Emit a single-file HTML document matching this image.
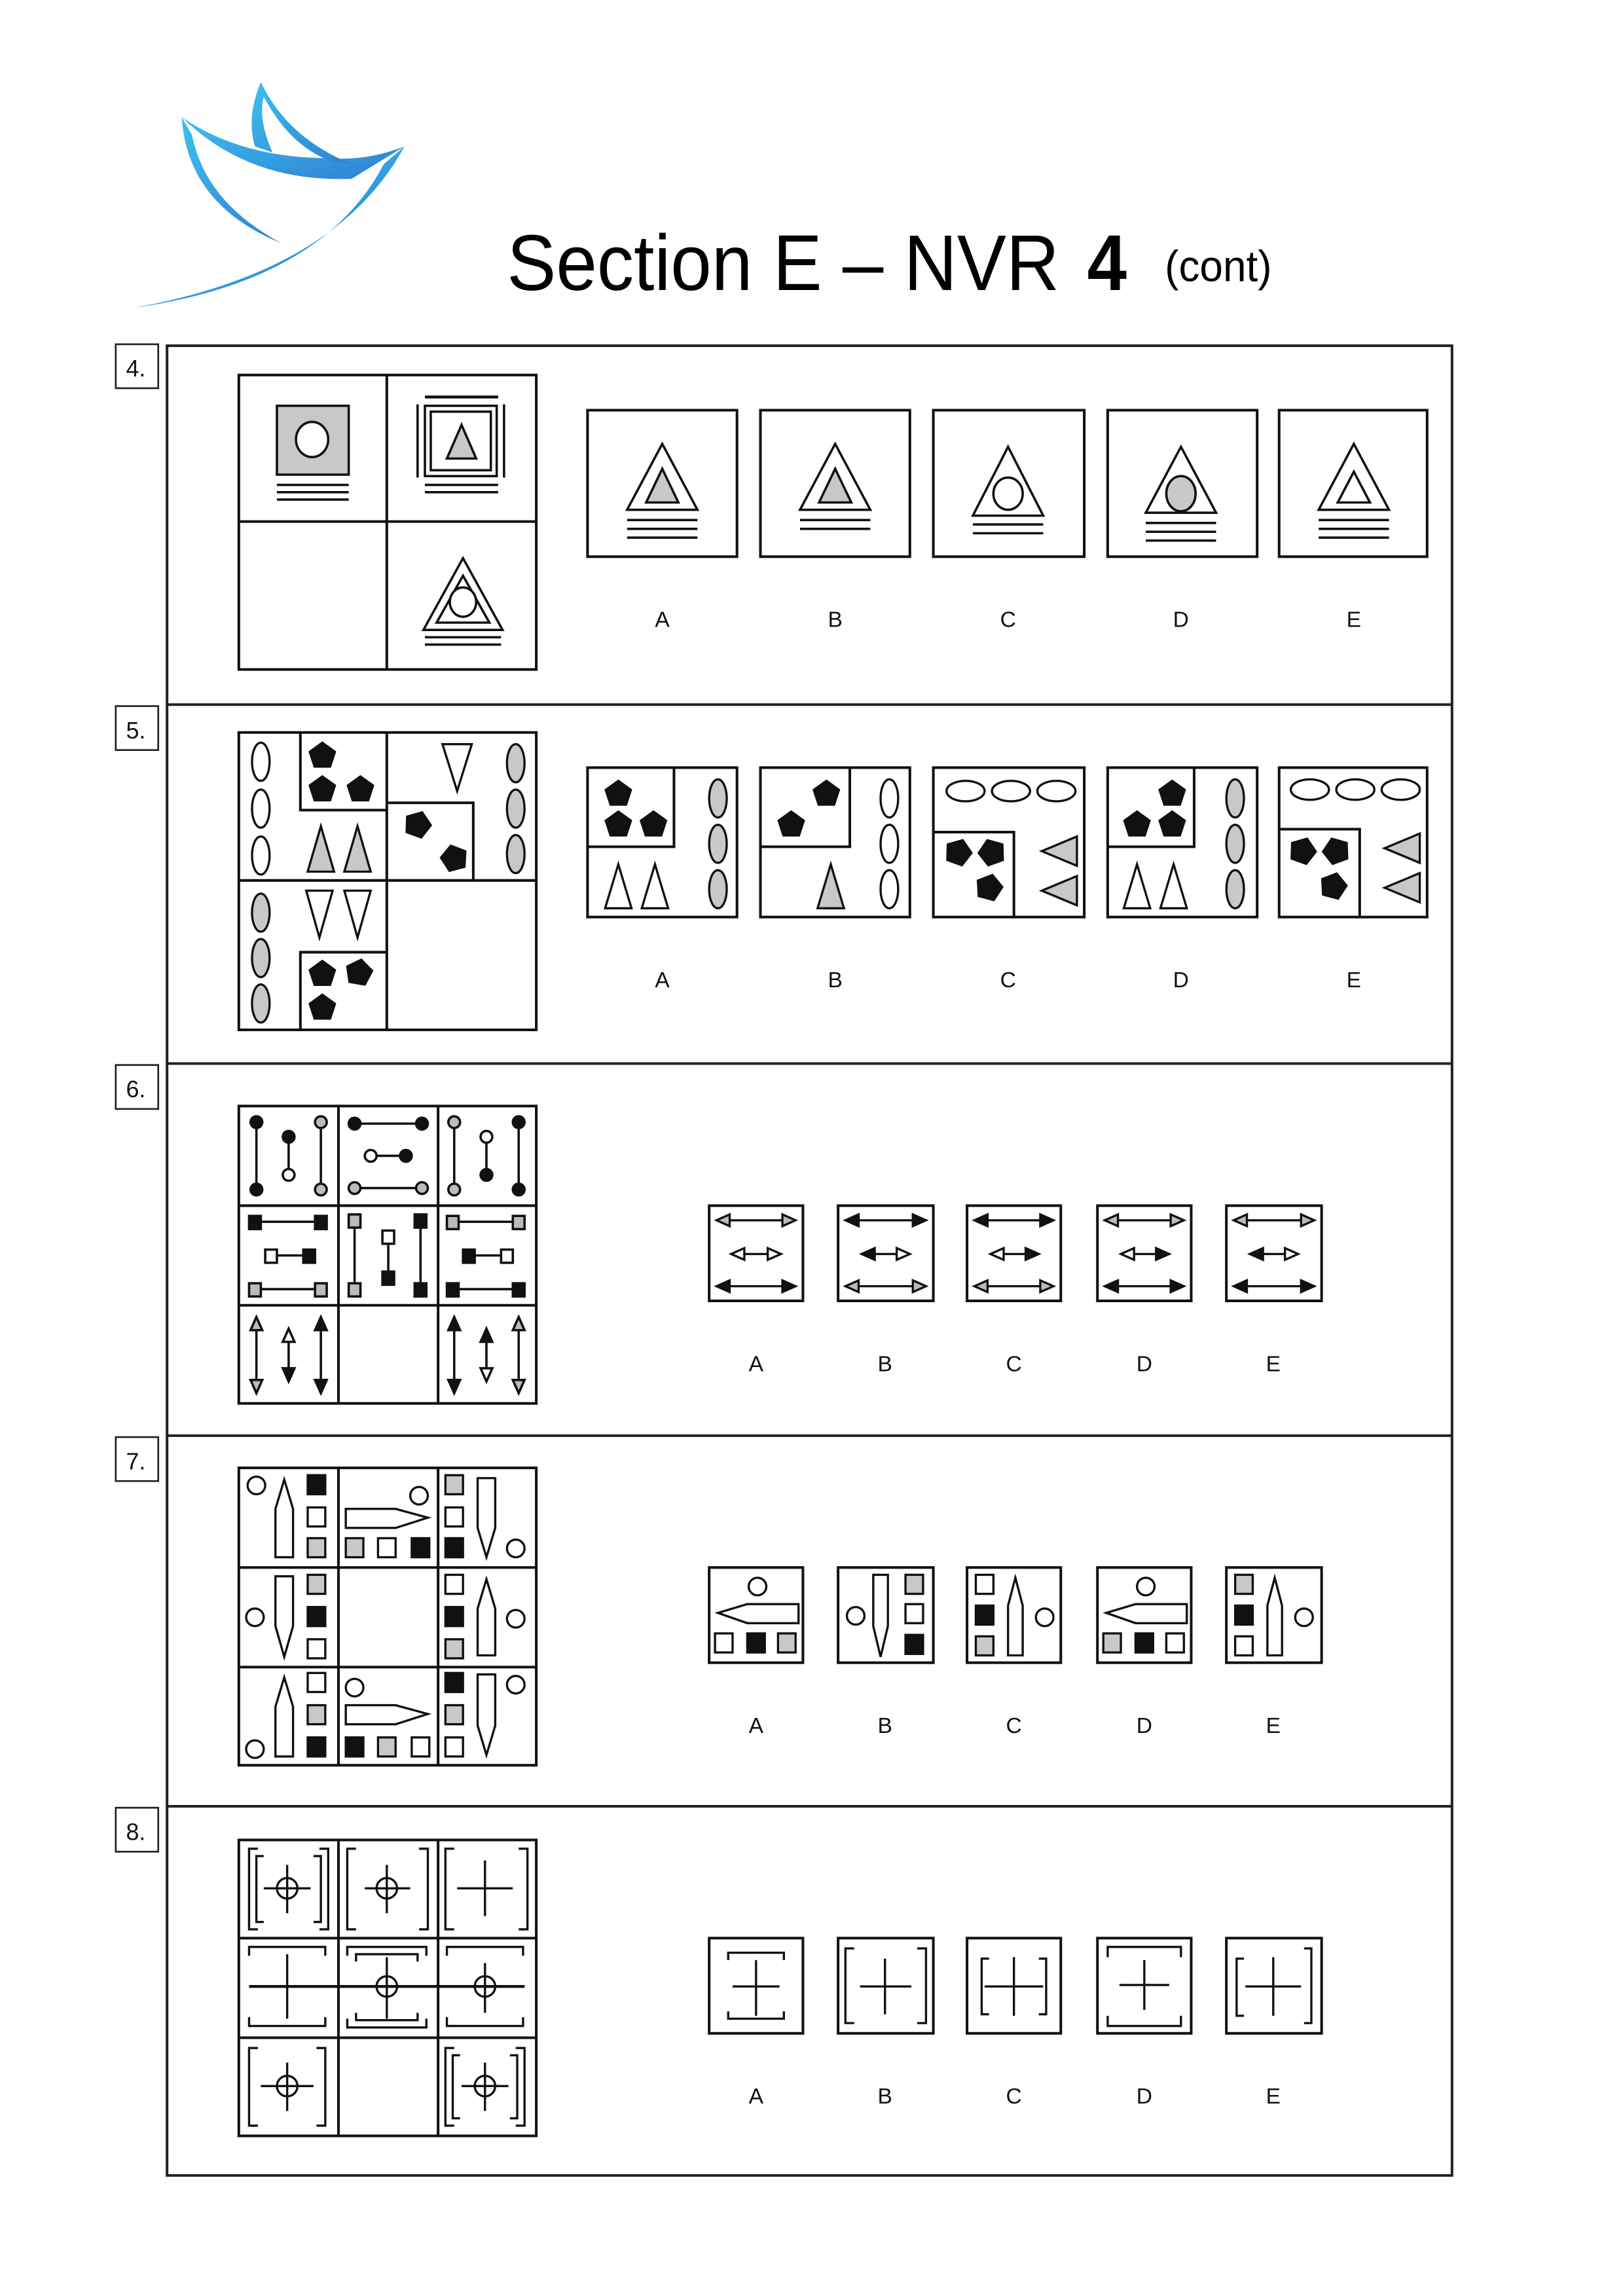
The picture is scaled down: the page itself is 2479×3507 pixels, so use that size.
<!DOCTYPE html>
<html><head><meta charset="utf-8"><style>html,body{margin:0;padding:0;background:#fff}svg{display:block}</style></head>
<body>
<svg xmlns="http://www.w3.org/2000/svg" width="2479" height="3507" viewBox="0 0 1107.7 1567.3" preserveAspectRatio="none">
<defs>
<linearGradient id="bl" x1="0" y1="0" x2="1" y2="1"><stop offset="0" stop-color="#3ec0ee"/><stop offset="1" stop-color="#2e7fd2"/></linearGradient>
</defs>
<rect width="1110" height="1570" fill="#fff"/>
<!-- logo -->
<g fill="url(#bl)">
<path d="M124 80 Q128 140 192 166 Q140 138 131 92 Z"/>
<path d="M124 80 Q170 125 240 122 L276 100 Q250 110 225 108 Q165 108 124 80 Z"/>
<path d="M178 56 Q168 80 174 100 L186 104 Q176 82 180 66 Q198 100 226 110 L240 112 Q196 94 178 56 Z"/>
<path d="M276 100 Q230 185 92 210 Q220 192 262 112 Z"/>
</g>
<!-- title -->
<text x="346" y="198" font-family="Liberation Sans Narrow, Liberation Sans, sans-serif" font-size="54" textLength="377" lengthAdjust="spacingAndGlyphs">Section E – NVR</text>
<text x="742" y="198" font-family="Liberation Sans, sans-serif" font-size="54" font-weight="bold" textLength="27" lengthAdjust="spacingAndGlyphs">4</text>
<text x="795" y="192" font-family="Liberation Sans Narrow, Liberation Sans, sans-serif" font-size="30" textLength="73" lengthAdjust="spacingAndGlyphs">(cont)</text>

<g fill="none" stroke="#222" stroke-width="1.8">
<rect x="114" y="236" width="877" height="1249"/>
<line x1="114" y1="481" x2="991" y2="481"/>
<line x1="114" y1="726" x2="991" y2="726"/>
<line x1="114" y1="980" x2="991" y2="980"/>
<line x1="114" y1="1233" x2="991" y2="1233"/>
<rect x="79" y="235" width="29" height="30" stroke-width="1.2"/>
<rect x="79" y="482" width="29" height="30" stroke-width="1.2"/>
<rect x="79" y="727" width="29" height="30" stroke-width="1.2"/>
<rect x="79" y="981" width="29" height="30" stroke-width="1.2"/>
<rect x="79" y="1234" width="29" height="30" stroke-width="1.2"/>
</g>
<g font-family="Liberation Sans Narrow, Liberation Sans, sans-serif" font-size="16" fill="#111">
<text x="86" y="257">4.</text><text x="86" y="504">5.</text><text x="86" y="749">6.</text><text x="86" y="1003">7.</text><text x="86" y="1256">8.</text>
</g>

<!-- labels -->
<g font-family="Liberation Sans, sans-serif" font-size="15" fill="#111" text-anchor="middle">
<text x="452" y="428">A</text><text x="570" y="428">B</text><text x="688" y="428">C</text><text x="806" y="428">D</text><text x="924" y="428">E</text>
<text x="452" y="674">A</text><text x="570" y="674">B</text><text x="688" y="674">C</text><text x="806" y="674">D</text><text x="924" y="674">E</text>
<text x="516" y="936">A</text><text x="604" y="936">B</text><text x="692" y="936">C</text><text x="781" y="936">D</text><text x="869" y="936">E</text>
<text x="516" y="1183">A</text><text x="604" y="1183">B</text><text x="692" y="1183">C</text><text x="781" y="1183">D</text><text x="869" y="1183">E</text>
<text x="516" y="1436">A</text><text x="604" y="1436">B</text><text x="692" y="1436">C</text><text x="781" y="1436">D</text><text x="869" y="1436">E</text>
</g>

<!-- ===== Q4 ===== -->
<g stroke="#111" stroke-width="1.8" fill="none">
<rect x="163" y="256" width="203" height="201"/>
<line x1="264" y1="256" x2="264" y2="457"/><line x1="163" y1="356" x2="366" y2="356"/>
<rect x="401" y="280" width="102" height="100"/><rect x="519" y="280" width="102" height="100"/>
<rect x="637" y="280" width="103" height="100"/><rect x="756" y="280" width="102" height="100"/>
<rect x="873" y="280" width="101" height="100"/>
</g>
<g stroke="#111" stroke-width="1.6">
<rect x="189" y="277" width="49" height="47" fill="#c8c8c8"/>
<ellipse cx="213" cy="300" rx="11" ry="12" fill="#fff"/>
<line x1="189" y1="331" x2="238" y2="331"/><line x1="189" y1="336" x2="238" y2="336"/><line x1="189" y1="341" x2="238" y2="341"/>
<line x1="290" y1="271" x2="340" y2="271" stroke-width="2"/>
<line x1="285" y1="276" x2="285" y2="326"/><line x1="344" y1="276" x2="344" y2="326"/>
<rect x="290" y="277" width="49" height="48" fill="#fff"/><rect x="294" y="281" width="41" height="40" fill="#fff"/>
<polygon points="315,290 305,313 325,313" fill="#c8c8c8"/>
<line x1="290" y1="331" x2="340" y2="331"/><line x1="290" y1="336" x2="340" y2="336"/>
<polygon points="316,381 289,430 343,430" fill="#fff"/>
<polygon points="316,393 298,425 334,425" fill="#fff"/>
<ellipse cx="316" cy="411" rx="9" ry="10" fill="#fff"/>
<line x1="290" y1="435" x2="342" y2="435"/><line x1="290" y1="440" x2="342" y2="440"/>
</g>
<!-- Q4 options -->
<g stroke="#111" stroke-width="1.6" fill="#fff">
<polygon points="452,303 428,348 476,348"/><polygon points="452,320 441,343 463,343" fill="#c8c8c8"/>
<line x1="428" y1="355" x2="476" y2="355"/><line x1="428" y1="361" x2="476" y2="361"/><line x1="428" y1="367" x2="476" y2="367"/>
<polygon points="570,303 546,348 594,348"/><polygon points="570,320 559,343 581,343" fill="#c8c8c8"/>
<line x1="546" y1="355" x2="594" y2="355"/><line x1="546" y1="361" x2="594" y2="361"/>
<polygon points="688,305 664,352 712,352"/><ellipse cx="688" cy="337" rx="10" ry="11"/>
<line x1="664" y1="358" x2="712" y2="358"/><line x1="664" y1="364" x2="712" y2="364"/>
<polygon points="806,305 782,350 830,350"/><ellipse cx="806" cy="337" rx="10" ry="12" fill="#c8c8c8"/>
<line x1="782" y1="357" x2="830" y2="357"/><line x1="782" y1="363" x2="830" y2="363"/><line x1="782" y1="369" x2="830" y2="369"/>
<polygon points="924,303 900,348 948,348"/><polygon points="924,322 913,343 935,343"/>
<line x1="900" y1="355" x2="948" y2="355"/><line x1="900" y1="361" x2="948" y2="361"/><line x1="900" y1="367" x2="948" y2="367"/>
</g>

<!-- ===== Q5 ===== -->
<g stroke="#111" stroke-width="1.8" fill="none">
<rect x="163" y="500" width="203" height="203"/>
<line x1="264" y1="500" x2="264" y2="703"/><line x1="163" y1="601" x2="366" y2="601"/>
<polyline points="205,500 205,553 264,553"/>
<polyline points="264,548 323,548 323,601"/>
<polyline points="205,703 205,650 264,650"/>
<rect x="401" y="524" width="102" height="102"/><rect x="519" y="524" width="102" height="102"/>
<rect x="637" y="524" width="103" height="102"/><rect x="756" y="524" width="102" height="102"/>
<rect x="873" y="524" width="101" height="102"/>
<polyline points="460,524 460,578 401,578"/>
<polyline points="580,524 580,578 519,578"/>
<polyline points="637,568 692,568 692,626"/>
<polyline points="815,524 815,578 756,578"/>
<polyline points="873,566 928,566 928,626"/>
</g>
<g stroke="#111" stroke-width="1.5">
<g fill="#fff"><ellipse cx="178" cy="520" rx="6" ry="13"/><ellipse cx="178" cy="552" rx="6" ry="13"/><ellipse cx="178" cy="584" rx="6" ry="13"/></g>
<g fill="#c8c8c8"><ellipse cx="352" cy="521" rx="6" ry="13"/><ellipse cx="352" cy="552" rx="6" ry="13"/><ellipse cx="352" cy="583" rx="6" ry="13"/>
<ellipse cx="178" cy="623" rx="6" ry="13"/><ellipse cx="178" cy="654" rx="6" ry="13"/><ellipse cx="178" cy="685" rx="6" ry="13"/></g>
<g fill="#c8c8c8"><polygon points="219,564 210,595 228,595"/><polygon points="244,564 235,595 253,595"/></g>
<g fill="#fff"><polygon points="302,508 322,508 312,540"/><polygon points="209,608 227,608 218,640"/><polygon points="235,608 253,608 244,640"/></g>
<g fill="#111">
<polygon transform="translate(220,516)" points="0,-9 8.6,-2.8 5.3,7.3 -5.3,7.3 -8.6,-2.8"/>
<polygon transform="translate(220,539)" points="0,-9 8.6,-2.8 5.3,7.3 -5.3,7.3 -8.6,-2.8"/>
<polygon transform="translate(246,539)" points="0,-9 8.6,-2.8 5.3,7.3 -5.3,7.3 -8.6,-2.8"/>
<polygon transform="translate(285,563) rotate(20)" points="0,-9 8.6,-2.8 5.3,7.3 -5.3,7.3 -8.6,-2.8"/>
<polygon transform="translate(310,586) rotate(-15)" points="0,-9 8.6,-2.8 5.3,7.3 -5.3,7.3 -8.6,-2.8"/>
<polygon transform="translate(220,665)" points="0,-9 8.6,-2.8 5.3,7.3 -5.3,7.3 -8.6,-2.8"/>
<polygon transform="translate(245,664) rotate(10)" points="0,-9 8.6,-2.8 5.3,7.3 -5.3,7.3 -8.6,-2.8"/>
<polygon transform="translate(220,688)" points="0,-9 8.6,-2.8 5.3,7.3 -5.3,7.3 -8.6,-2.8"/>
<polygon transform="translate(422,542)" points="0,-9 8.6,-2.8 5.3,7.3 -5.3,7.3 -8.6,-2.8"/>
<polygon transform="translate(422,563)" points="0,-9 8.6,-2.8 5.3,7.3 -5.3,7.3 -8.6,-2.8"/>
<polygon transform="translate(446,563)" points="0,-9 8.6,-2.8 5.3,7.3 -5.3,7.3 -8.6,-2.8"/>
<polygon transform="translate(564,542)" points="0,-9 8.6,-2.8 5.3,7.3 -5.3,7.3 -8.6,-2.8"/>
<polygon transform="translate(540,563)" points="0,-9 8.6,-2.8 5.3,7.3 -5.3,7.3 -8.6,-2.8"/>
<polygon transform="translate(654,582) rotate(20)" points="0,-9 8.6,-2.8 5.3,7.3 -5.3,7.3 -8.6,-2.8"/>
<polygon transform="translate(677,582) rotate(-20)" points="0,-9 8.6,-2.8 5.3,7.3 -5.3,7.3 -8.6,-2.8"/>
<polygon transform="translate(675,606) rotate(15)" points="0,-9 8.6,-2.8 5.3,7.3 -5.3,7.3 -8.6,-2.8"/>
<polygon transform="translate(800,542)" points="0,-9 8.6,-2.8 5.3,7.3 -5.3,7.3 -8.6,-2.8"/>
<polygon transform="translate(776,563)" points="0,-9 8.6,-2.8 5.3,7.3 -5.3,7.3 -8.6,-2.8"/>
<polygon transform="translate(800,563)" points="0,-9 8.6,-2.8 5.3,7.3 -5.3,7.3 -8.6,-2.8"/>
<polygon transform="translate(889,581) rotate(20)" points="0,-9 8.6,-2.8 5.3,7.3 -5.3,7.3 -8.6,-2.8"/>
<polygon transform="translate(912,581) rotate(-20)" points="0,-9 8.6,-2.8 5.3,7.3 -5.3,7.3 -8.6,-2.8"/>
<polygon transform="translate(910,605) rotate(15)" points="0,-9 8.6,-2.8 5.3,7.3 -5.3,7.3 -8.6,-2.8"/>
</g>
<g fill="#c8c8c8"><ellipse cx="490" cy="545" rx="6" ry="13"/><ellipse cx="490" cy="576" rx="6" ry="13"/><ellipse cx="490" cy="607" rx="6" ry="13"/>
<ellipse cx="843" cy="545" rx="6" ry="13"/><ellipse cx="843" cy="576" rx="6" ry="13"/><ellipse cx="843" cy="607" rx="6" ry="13"/>
<polygon points="567,590 558,620 576,620"/>
<polygon points="711,581 735,571 735,591"/><polygon points="711,608 735,598 735,618"/>
<polygon points="945,579 969,569 969,589"/><polygon points="945,606 969,596 969,616"/></g>
<g fill="#fff"><ellipse cx="607" cy="545" rx="6" ry="13"/><ellipse cx="607" cy="576" rx="6" ry="13"/><ellipse cx="607" cy="607" rx="6" ry="13"/>
<polygon points="422,590 413,620 431,620"/><polygon points="447,590 438,620 456,620"/>
<polygon points="776,590 767,620 785,620"/><polygon points="801,590 792,620 810,620"/>
<ellipse cx="659" cy="540" rx="13" ry="7"/><ellipse cx="690" cy="540" rx="13" ry="7"/><ellipse cx="721" cy="540" rx="13" ry="7"/>
<ellipse cx="894" cy="539" rx="13" ry="7"/><ellipse cx="925" cy="539" rx="13" ry="7"/><ellipse cx="956" cy="539" rx="13" ry="7"/></g>
</g>

<!-- ===== Q6 ===== -->
<g stroke="#111" stroke-width="1.8" fill="none">
<rect x="163" y="755" width="203" height="203"/>
<line x1="231" y1="755" x2="231" y2="958"/><line x1="299" y1="755" x2="299" y2="958"/>
<line x1="163" y1="823" x2="366" y2="823"/><line x1="163" y1="891" x2="366" y2="891"/>
<rect x="484" y="823" width="64" height="65"/><rect x="572" y="823" width="65" height="65"/>
<rect x="660" y="823" width="64" height="65"/><rect x="749" y="823" width="64" height="65"/>
<rect x="837" y="823" width="65" height="65"/>
</g>
<g stroke="#111" stroke-width="1.6">
<line x1="175" y1="766" x2="175" y2="812"/><line x1="197" y1="776" x2="197" y2="802"/><line x1="219" y1="766" x2="219" y2="812"/>
<circle cx="175" cy="766" r="4" fill="#111"/><circle cx="175" cy="812" r="4" fill="#111"/>
<circle cx="197" cy="776" r="4" fill="#111"/><circle cx="197" cy="802" r="4" fill="#fff"/>
<circle cx="219" cy="766" r="4" fill="#bbb"/><circle cx="219" cy="812" r="4" fill="#bbb"/>
<line x1="242" y1="767" x2="288" y2="767"/><line x1="253" y1="789" x2="277" y2="789"/><line x1="242" y1="811" x2="288" y2="811"/>
<circle cx="242" cy="767" r="4" fill="#111"/><circle cx="288" cy="767" r="4" fill="#111"/>
<circle cx="253" cy="789" r="4" fill="#fff"/><circle cx="277" cy="789" r="4" fill="#111"/>
<circle cx="242" cy="811" r="4" fill="#bbb"/><circle cx="288" cy="811" r="4" fill="#bbb"/>
<line x1="310" y1="766" x2="310" y2="812"/><line x1="332" y1="776" x2="332" y2="802"/><line x1="354" y1="766" x2="354" y2="812"/>
<circle cx="310" cy="766" r="4" fill="#bbb"/><circle cx="310" cy="812" r="4" fill="#bbb"/>
<circle cx="332" cy="776" r="4" fill="#fff"/><circle cx="332" cy="802" r="4" fill="#111"/>
<circle cx="354" cy="766" r="4" fill="#111"/><circle cx="354" cy="812" r="4" fill="#111"/>
<line x1="175" y1="834" x2="219" y2="834"/><line x1="185" y1="857" x2="211" y2="857"/><line x1="175" y1="880" x2="219" y2="880"/>
<rect x="170" y="830" width="8" height="9" fill="#111"/><rect x="215" y="830" width="8" height="9" fill="#111"/>
<rect x="181" y="853" width="8" height="9" fill="#fff"/><rect x="207" y="853" width="8" height="9" fill="#111"/>
<rect x="170" y="876" width="8" height="9" fill="#bbb"/><rect x="215" y="876" width="8" height="9" fill="#bbb"/>
<line x1="242" y1="834" x2="242" y2="880"/><line x1="265" y1="845" x2="265" y2="872"/><line x1="287" y1="834" x2="287" y2="880"/>
<rect x="238" y="829" width="8" height="9" fill="#bbb"/><rect x="238" y="876" width="8" height="9" fill="#bbb"/>
<rect x="261" y="840" width="8" height="9" fill="#fff"/><rect x="261" y="868" width="8" height="9" fill="#111"/>
<rect x="283" y="829" width="8" height="9" fill="#111"/><rect x="283" y="876" width="8" height="9" fill="#111"/>
<line x1="310" y1="834" x2="354" y2="834"/><line x1="320" y1="857" x2="346" y2="857"/><line x1="310" y1="880" x2="354" y2="880"/>
<rect x="305" y="830" width="8" height="9" fill="#bbb"/><rect x="350" y="830" width="8" height="9" fill="#bbb"/>
<rect x="316" y="853" width="8" height="9" fill="#111"/><rect x="342" y="853" width="8" height="9" fill="#fff"/>
<rect x="305" y="876" width="8" height="9" fill="#111"/><rect x="350" y="876" width="8" height="9" fill="#111"/>
<line x1="175" y1="902" x2="175" y2="948"/><polygon points="175,899 171,908 179,908" fill="#bbb"/><polygon points="175,951 171,942 179,942" fill="#bbb"/>
<line x1="197" y1="910" x2="197" y2="940"/><polygon points="197,907 193,916 201,916" fill="#fff"/><polygon points="197,943 193,934 201,934" fill="#111"/>
<line x1="219" y1="902" x2="219" y2="948"/><polygon points="219,899 215,908 223,908" fill="#111"/><polygon points="219,951 215,942 223,942" fill="#111"/>
<line x1="310" y1="902" x2="310" y2="948"/><polygon points="310,899 306,908 314,908" fill="#111"/><polygon points="310,951 306,942 314,942" fill="#111"/>
<line x1="332" y1="910" x2="332" y2="940"/><polygon points="332,907 328,916 336,916" fill="#111"/><polygon points="332,943 328,934 336,934" fill="#fff"/>
<line x1="354" y1="902" x2="354" y2="948"/><polygon points="354,899 350,908 358,908" fill="#bbb"/><polygon points="354,951 350,942 358,942" fill="#bbb"/>
</g>
<g stroke="#111" stroke-width="1.5">
<line x1="490" y1="833" x2="542" y2="833"/><polygon points="489,833 498,829 498,837" fill="#bbb"/><polygon points="543,833 534,829 534,837" fill="#bbb"/>
<line x1="500" y1="856" x2="532" y2="856"/><polygon points="499,856 508,852 508,860" fill="#fff"/><polygon points="533,856 524,852 524,860" fill="#fff"/>
<line x1="490" y1="878" x2="542" y2="878"/><polygon points="489,878 498,874 498,882" fill="#111"/><polygon points="543,878 534,874 534,882" fill="#111"/>
<line x1="578" y1="833" x2="631" y2="833"/><polygon points="577,833 586,829 586,837" fill="#111"/><polygon points="632,833 623,829 623,837" fill="#111"/>
<line x1="589" y1="856" x2="620" y2="856"/><polygon points="588,856 597,852 597,860" fill="#111"/><polygon points="621,856 612,852 612,860" fill="#fff"/>
<line x1="578" y1="878" x2="631" y2="878"/><polygon points="577,878 586,874 586,882" fill="#bbb"/><polygon points="632,878 623,874 623,882" fill="#bbb"/>
<line x1="666" y1="833" x2="718" y2="833"/><polygon points="665,833 674,829 674,837" fill="#111"/><polygon points="719,833 710,829 710,837" fill="#111"/>
<line x1="677" y1="856" x2="708" y2="856"/><polygon points="676,856 685,852 685,860" fill="#fff"/><polygon points="709,856 700,852 700,860" fill="#111"/>
<line x1="666" y1="878" x2="718" y2="878"/><polygon points="665,878 674,874 674,882" fill="#bbb"/><polygon points="719,878 710,874 710,882" fill="#bbb"/>
<line x1="755" y1="833" x2="807" y2="833"/><polygon points="754,833 763,829 763,837" fill="#bbb"/><polygon points="808,833 799,829 799,837" fill="#bbb"/>
<line x1="766" y1="856" x2="797" y2="856"/><polygon points="765,856 774,852 774,860" fill="#fff"/><polygon points="798,856 789,852 789,860" fill="#111"/>
<line x1="755" y1="878" x2="807" y2="878"/><polygon points="754,878 763,874 763,882" fill="#111"/><polygon points="808,878 799,874 799,882" fill="#111"/>
<line x1="843" y1="833" x2="896" y2="833"/><polygon points="842,833 851,829 851,837" fill="#bbb"/><polygon points="897,833 888,829 888,837" fill="#bbb"/>
<line x1="854" y1="856" x2="885" y2="856"/><polygon points="853,856 862,852 862,860" fill="#111"/><polygon points="886,856 877,852 877,860" fill="#fff"/>
<line x1="843" y1="878" x2="896" y2="878"/><polygon points="842,878 851,874 851,882" fill="#111"/><polygon points="897,878 888,874 888,882" fill="#111"/>
</g>

<!-- ===== Q7 ===== -->
<g stroke="#111" stroke-width="1.8" fill="none">
<rect x="163" y="1002" width="203" height="203"/>
<line x1="231" y1="1002" x2="231" y2="1205"/><line x1="299" y1="1002" x2="299" y2="1205"/>
<line x1="163" y1="1070" x2="366" y2="1070"/><line x1="163" y1="1138" x2="366" y2="1138"/>
<rect x="484" y="1070" width="64" height="65"/><rect x="572" y="1070" width="65" height="65"/>
<rect x="660" y="1070" width="64" height="65"/><rect x="749" y="1070" width="64" height="65"/>
<rect x="837" y="1070" width="65" height="65"/>
</g>
<g stroke="#111" stroke-width="1.5" fill="#fff">
<circle cx="175" cy="1014" r="6"/>
<polygon points="188,1063 188,1030 194,1010 200,1030 200,1063"/>
<rect x="210" y="1007" width="12" height="13" fill="#111"/><rect x="210" y="1029" width="12" height="13"/><rect x="210" y="1050" width="12" height="13" fill="#c8c8c8"/>
<circle cx="286" cy="1021" r="6"/>
<polygon points="236,1030 270,1030 292,1036 270,1043 236,1043"/>
<rect x="236" y="1050" width="12" height="13" fill="#c8c8c8"/><rect x="258" y="1050" width="12" height="13"/><rect x="281" y="1050" width="12" height="13" fill="#111"/>
<rect x="304" y="1007" width="12" height="13" fill="#c8c8c8"/><rect x="304" y="1029" width="12" height="13"/><rect x="304" y="1050" width="12" height="13" fill="#111"/>
<polygon points="326,1009 338,1009 338,1043 332,1063 326,1043"/>
<circle cx="352" cy="1057" r="6"/>
<circle cx="174" cy="1104" r="6"/>
<polygon points="188,1076 200,1076 200,1110 194,1131 188,1110"/>
<rect x="210" y="1075" width="12" height="13" fill="#c8c8c8"/><rect x="210" y="1097" width="12" height="13" fill="#111"/><rect x="210" y="1119" width="12" height="13"/>
<rect x="304" y="1075" width="12" height="13"/><rect x="304" y="1097" width="12" height="13" fill="#111"/><rect x="304" y="1119" width="12" height="13" fill="#c8c8c8"/>
<polygon points="326,1130 326,1098 332,1078 338,1098 338,1130"/>
<circle cx="352" cy="1105" r="6"/>
<polygon points="188,1199 188,1165 194,1145 200,1165 200,1199"/>
<rect x="210" y="1142" width="12" height="13"/><rect x="210" y="1164" width="12" height="13" fill="#c8c8c8"/><rect x="210" y="1186" width="12" height="13" fill="#111"/>
<circle cx="174" cy="1194" r="6"/>
<circle cx="242" cy="1152" r="6"/>
<polygon points="236,1164 270,1164 292,1170 270,1177 236,1177"/>
<rect x="236" y="1186" width="12" height="13" fill="#111"/><rect x="258" y="1186" width="12" height="13" fill="#c8c8c8"/><rect x="281" y="1186" width="12" height="13"/>
<rect x="304" y="1142" width="12" height="13" fill="#111"/><rect x="304" y="1164" width="12" height="13" fill="#c8c8c8"/><rect x="304" y="1186" width="12" height="13"/>
<polygon points="326,1143 338,1143 338,1178 332,1198 326,1178"/>
<circle cx="352" cy="1150" r="6"/>
<circle cx="517" cy="1083" r="6"/>
<polygon points="545,1095 545,1108 510,1108 490,1101 510,1095"/>
<rect x="488" y="1115" width="12" height="13"/><rect x="510" y="1115" width="12" height="13" fill="#111"/><rect x="531" y="1115" width="12" height="13" fill="#c8c8c8"/>
<circle cx="584" cy="1103" r="6"/>
<polygon points="596,1075 606,1075 606,1110 601,1131 596,1110"/>
<rect x="618" y="1075" width="12" height="13" fill="#c8c8c8"/><rect x="618" y="1095" width="12" height="13"/><rect x="618" y="1116" width="12" height="13" fill="#111"/>
<rect x="666" y="1075" width="12" height="13"/><rect x="666" y="1096" width="12" height="13" fill="#111"/><rect x="666" y="1117" width="12" height="13" fill="#c8c8c8"/>
<polygon points="688,1130 688,1096 693,1077 698,1096 698,1130"/>
<circle cx="713" cy="1104" r="6"/>
<circle cx="782" cy="1083" r="6"/>
<polygon points="810,1095 810,1108 775,1108 755,1101 775,1095"/>
<rect x="753" y="1115" width="12" height="13" fill="#c8c8c8"/><rect x="775" y="1115" width="12" height="13" fill="#111"/><rect x="796" y="1115" width="12" height="13"/>
<rect x="843" y="1075" width="12" height="13" fill="#c8c8c8"/><rect x="843" y="1096" width="12" height="13" fill="#111"/><rect x="843" y="1117" width="12" height="13"/>
<polygon points="865,1130 865,1096 870,1077 875,1096 875,1130"/>
<circle cx="890" cy="1104" r="6"/>
</g>

<!-- ===== Q8 ===== -->
<g stroke="#111" stroke-width="1.8" fill="none">
<rect x="163" y="1256" width="203" height="202"/>
<line x1="231" y1="1256" x2="231" y2="1458"/><line x1="299" y1="1256" x2="299" y2="1458"/>
<line x1="163" y1="1323" x2="366" y2="1323"/><line x1="163" y1="1391" x2="366" y2="1391"/>
<rect x="484" y="1323" width="64" height="65"/><rect x="572" y="1323" width="65" height="65"/>
<rect x="660" y="1323" width="64" height="65"/><rect x="749" y="1323" width="64" height="65"/>
<rect x="837" y="1323" width="65" height="65"/>
</g>
<g stroke="#111" stroke-width="1.5" fill="none">
<polyline points="176,1262 170,1262 170,1317 176,1317"/><polyline points="180,1267 175,1267 175,1312 180,1312"/>
<polyline points="218,1262 224,1262 224,1317 218,1317"/><polyline points="214,1267 219,1267 219,1312 214,1312"/>
<line x1="180" y1="1289" x2="212" y2="1289"/><line x1="196" y1="1273" x2="196" y2="1306"/><circle cx="196" cy="1289" r="7"/>
<polyline points="243,1262 237,1262 237,1317 243,1317"/><polyline points="286,1262 292,1262 292,1317 286,1317"/>
<line x1="249" y1="1289" x2="280" y2="1289"/><line x1="264" y1="1273" x2="264" y2="1306"/><circle cx="264" cy="1289" r="7"/>
<polyline points="310,1262 304,1262 304,1317 310,1317"/><polyline points="354,1262 360,1262 360,1317 354,1317"/>
<line x1="312" y1="1289" x2="350" y2="1289"/><line x1="331" y1="1270" x2="331" y2="1308"/>
<polyline points="170,1335 170,1329 222,1329 222,1335"/><polyline points="170,1377 170,1383 222,1383 222,1377"/>
<line x1="196" y1="1334" x2="196" y2="1378"/>
<line x1="170" y1="1356" x2="358" y2="1356" stroke-width="2"/>
<polyline points="237,1335 237,1329 291,1329 291,1335"/><polyline points="243,1339 243,1334 285,1334 285,1339"/>
<polyline points="237,1378 237,1384 291,1384 291,1378"/><polyline points="243,1374 243,1379 285,1379 285,1374"/>
<line x1="264" y1="1336" x2="264" y2="1378"/><circle cx="264" cy="1356" r="7"/>
<polyline points="305,1335 305,1329 357,1329 357,1335"/><polyline points="305,1377 305,1383 357,1383 357,1377"/>
<line x1="331" y1="1340" x2="331" y2="1374"/><circle cx="331" cy="1356" r="7"/>
<polyline points="176,1398 170,1398 170,1451 176,1451"/><polyline points="216,1398 222,1398 222,1451 216,1451"/>
<line x1="178" y1="1424" x2="214" y2="1424"/><line x1="196" y1="1408" x2="196" y2="1441"/><circle cx="196" cy="1424" r="7"/>
<polyline points="310,1398 304,1398 304,1451 310,1451"/><polyline points="314,1403 309,1403 309,1446 314,1446"/>
<polyline points="352,1398 358,1398 358,1451 352,1451"/><polyline points="348,1403 353,1403 353,1446 348,1446"/>
<line x1="315" y1="1424" x2="347" y2="1424"/><line x1="331" y1="1408" x2="331" y2="1441"/><circle cx="331" cy="1424" r="7"/>
<polyline points="497,1338 497,1333 535,1333 535,1338"/><polyline points="497,1373 497,1378 535,1378 535,1373"/>
<line x1="500" y1="1356" x2="532" y2="1356"/><line x1="516" y1="1338" x2="516" y2="1376"/>
<polyline points="583,1330 577,1330 577,1381 583,1381"/><polyline points="626,1330 632,1330 632,1381 626,1381"/>
<line x1="587" y1="1356" x2="622" y2="1356"/><line x1="604" y1="1337" x2="604" y2="1375"/>
<polyline points="675,1337 670,1337 670,1375 675,1375"/><polyline points="709,1337 714,1337 714,1375 709,1375"/>
<line x1="672" y1="1356" x2="712" y2="1356"/><line x1="692" y1="1336" x2="692" y2="1376"/>
<polyline points="756,1336 756,1329 806,1329 806,1336"/><polyline points="756,1376 756,1383 806,1383 806,1376"/>
<line x1="764" y1="1355" x2="798" y2="1355"/><line x1="781" y1="1338" x2="781" y2="1372"/>
<polyline points="849,1337 844,1337 844,1376 849,1376"/><polyline points="890,1330 895,1330 895,1381 890,1381"/>
<line x1="850" y1="1356" x2="888" y2="1356"/><line x1="869" y1="1336" x2="869" y2="1376"/>
</g>
</svg>
</body></html>
